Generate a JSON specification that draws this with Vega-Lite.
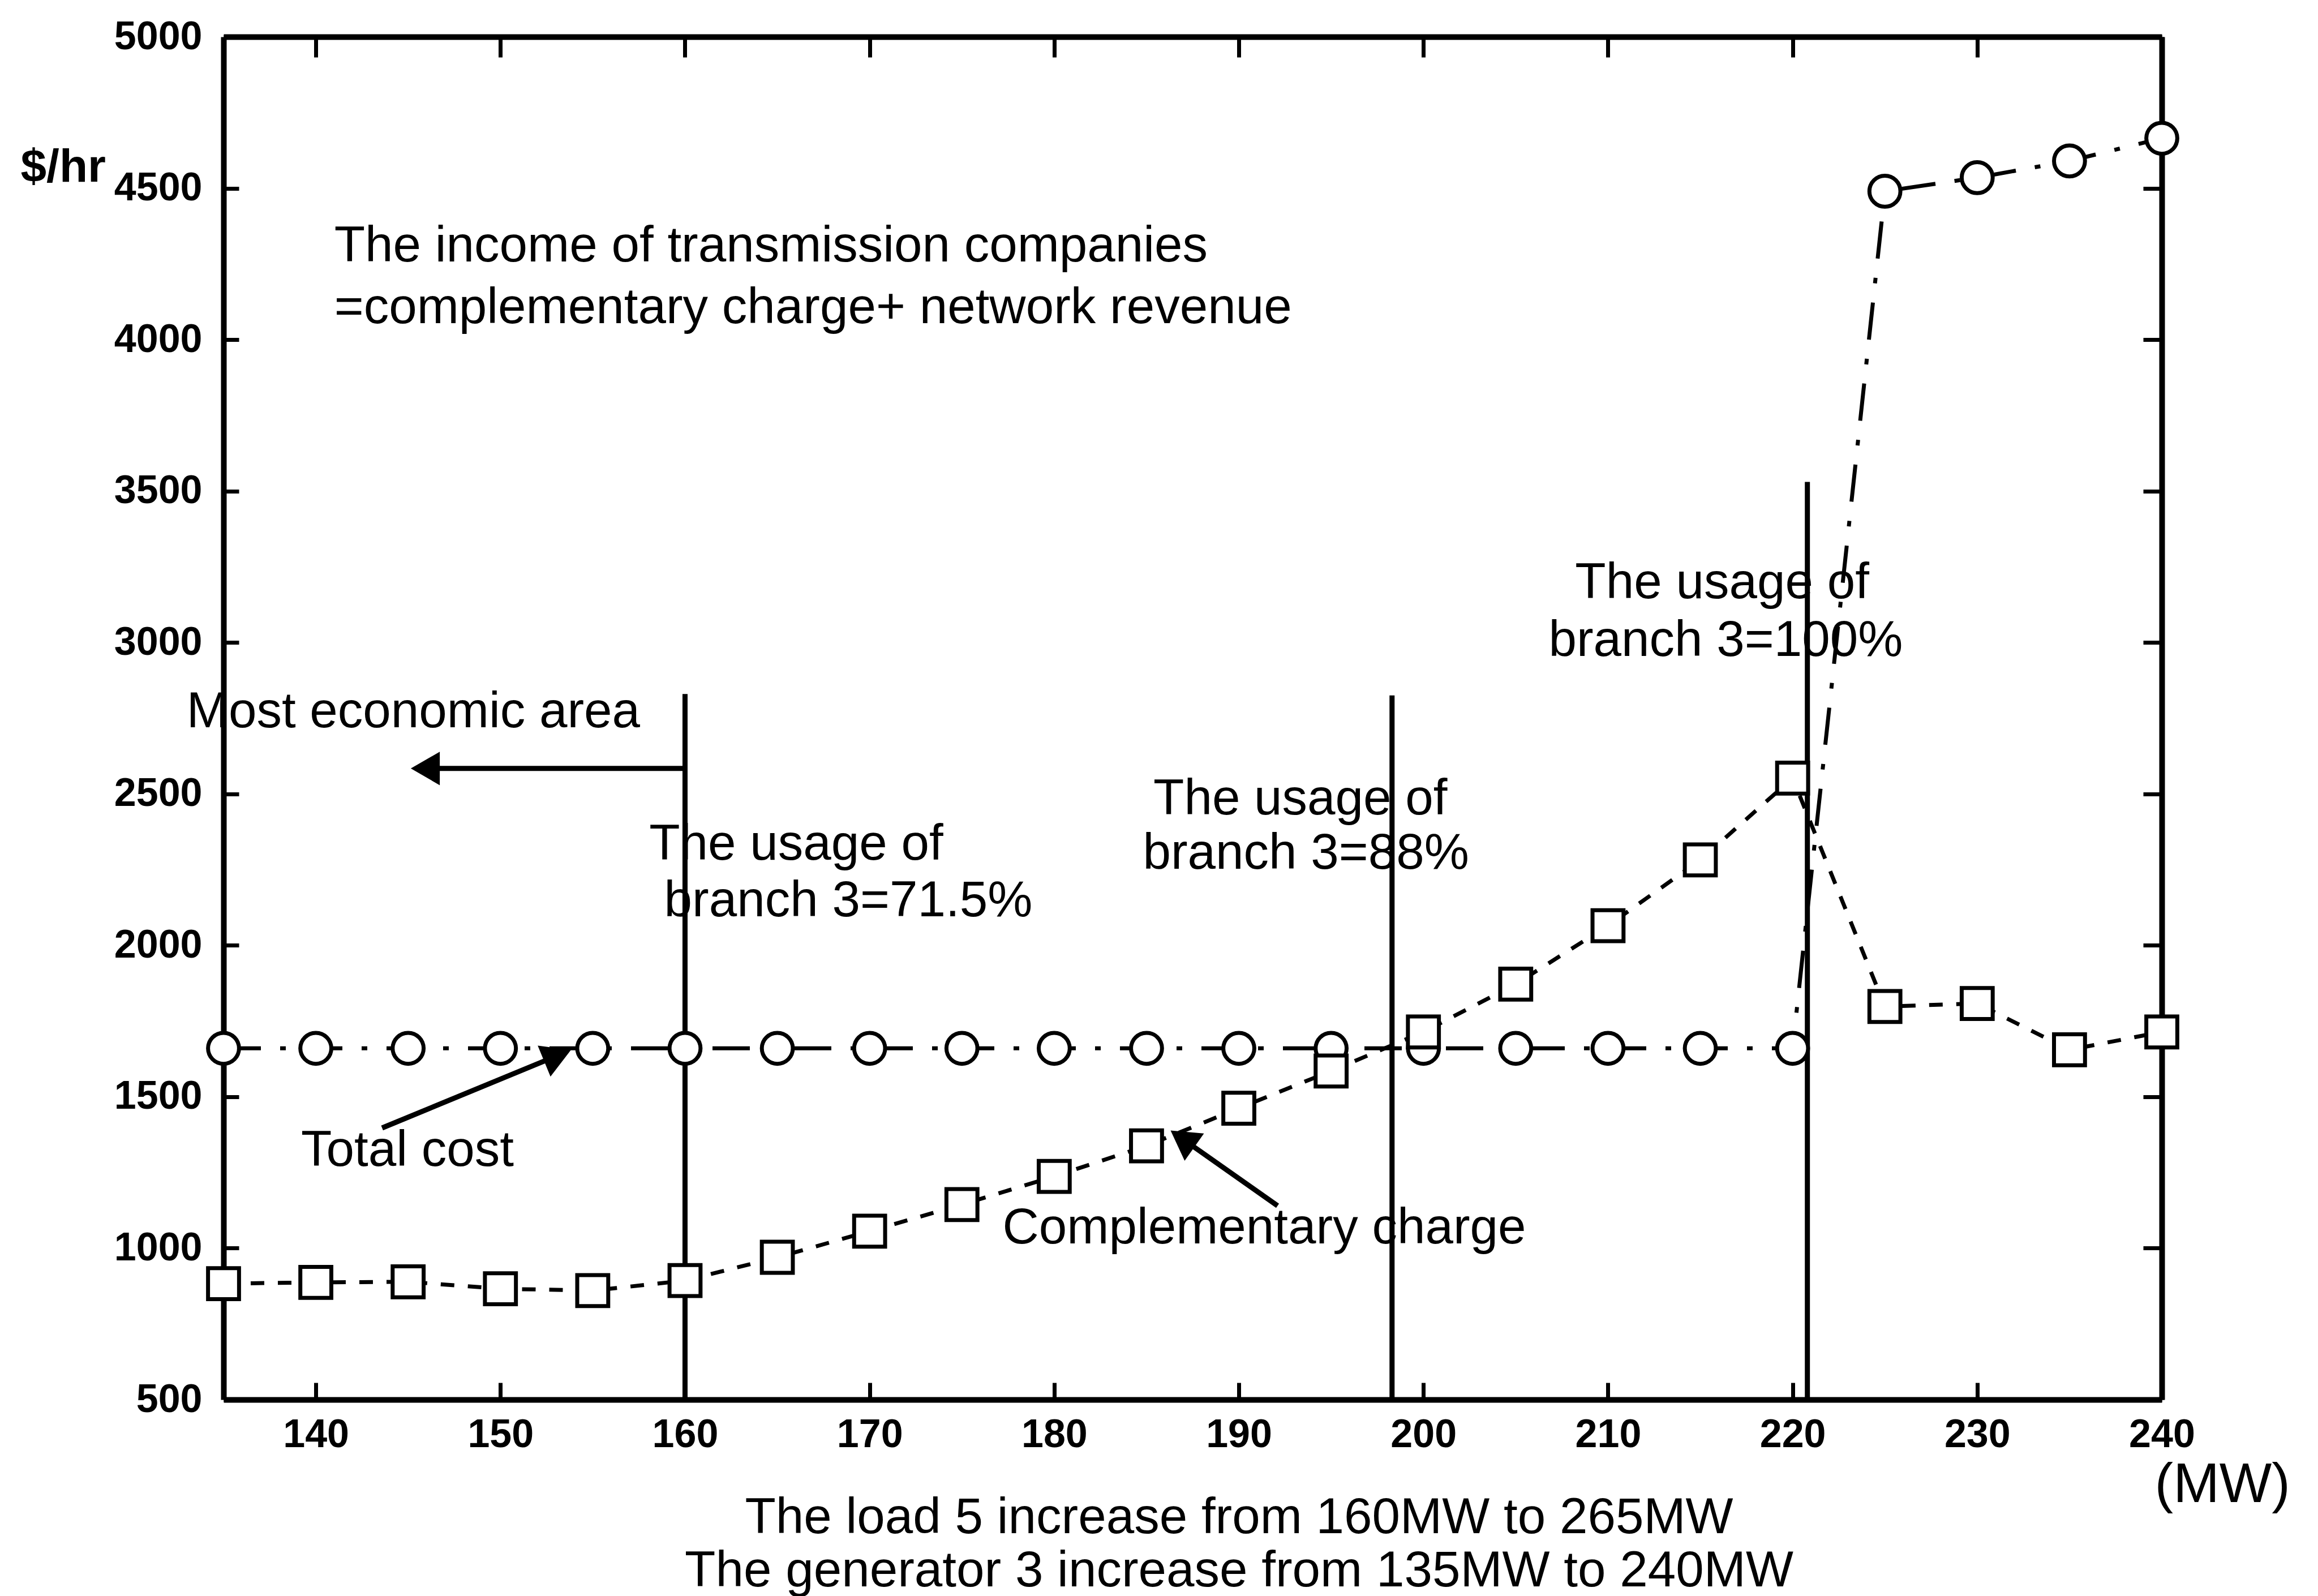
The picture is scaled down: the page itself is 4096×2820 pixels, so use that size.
{
  "$schema": "https://vega.github.io/schema/vega-lite/v6.json",
  "width": 3425,
  "height": 2408,
  "autosize": {"type": "none"},
  "padding": {"left": 395, "top": 65, "right": 276, "bottom": 347},
  "background": "white",
  "config": {
    "view": {"stroke": null},
    "font": "Liberation Sans",
    "axis": {
      "grid": false,
      "domainColor": "black",
      "tickColor": "black",
      "labelColor": "black",
      "titleColor": "black",
      "labelFont": "Liberation Sans",
      "titleFont": "Liberation Sans",
      "labelFlush": false,
      "labelOverlap": false
    }
  },
  "datasets": {
    "series": [
      {"mw": 135, "total": 1660, "comp": 883},
      {"mw": 140, "total": 1660, "comp": 887},
      {"mw": 145, "total": 1660, "comp": 889},
      {"mw": 150, "total": 1660, "comp": 866},
      {"mw": 155, "total": 1660, "comp": 860},
      {"mw": 160, "total": 1660, "comp": 893},
      {"mw": 165, "total": 1660, "comp": 970},
      {"mw": 170, "total": 1660, "comp": 1056},
      {"mw": 175, "total": 1660, "comp": 1144},
      {"mw": 180, "total": 1660, "comp": 1237},
      {"mw": 185, "total": 1660, "comp": 1338},
      {"mw": 190, "total": 1660, "comp": 1462},
      {"mw": 195, "total": 1660, "comp": 1585},
      {"mw": 200, "total": 1660, "comp": 1714},
      {"mw": 205, "total": 1660, "comp": 1872},
      {"mw": 210, "total": 1660, "comp": 2065},
      {"mw": 215, "total": 1660, "comp": 2282},
      {"mw": 220, "total": 1660, "comp": 2552},
      {"mw": 225, "total": 4490, "comp": 1798},
      {"mw": 230, "total": 4535, "comp": 1808},
      {"mw": 235, "total": 4590, "comp": 1655},
      {"mw": 240, "total": 4665, "comp": 1714}
    ],
    "usage": [
      {"mw": 160, "base": 500, "top": 2830},
      {"mw": 198.3, "base": 500, "top": 2825},
      {"mw": 220.8, "base": 500, "top": 3530}
    ],
    "arrows": [
      {"name": "total", "mw": 143.59, "usd": 1397, "mw2": 152.85, "usd2": 1630},
      {"name": "comp", "mw": 192.1, "usd": 1140, "mw2": 187.16, "usd2": 1352},
      {"name": "econ", "mw": 160, "usd": 2584, "mw2": 145.93, "usd2": 2584}
    ],
    "notes": [
      {"mw": 141.0, "usd": 4259, "text": "The income of transmission companies"},
      {"mw": 141.0, "usd": 4054, "text": "=complementary charge+ network revenue"},
      {"mw": 133.0, "usd": 2721, "text": "Most economic area"},
      {"mw": 158.06, "usd": 2282, "text": "The usage of"},
      {"mw": 158.87, "usd": 2095, "text": "branch 3=71.5%"},
      {"mw": 185.37, "usd": 2432, "text": "The usage of"},
      {"mw": 184.8, "usd": 2253, "text": "branch 3=88%"},
      {"mw": 208.22, "usd": 3147, "text": "The usage of"},
      {"mw": 206.78, "usd": 2955, "text": "branch 3=100%"},
      {"mw": 139.2, "usd": 1272, "text": "Total cost"},
      {"mw": 177.2, "usd": 1016, "text": "Complementary charge"}
    ],
    "unit": [
      {"mw": 239.62, "usd": 162, "text": "(MW)"}
    ]
  },
  "resolve": {"axis": {"x": "independent", "y": "independent"}},
  "layer": [
    {
      "data": {"name": "usage"},
      "mark": {"type": "rule", "color": "black", "strokeWidth": 9},
      "encoding": {
        "x": {"field": "mw", "type": "quantitative", "scale": {"domain": [135, 240], "nice": false, "zero": false}, "axis": null},
        "y": {"field": "base", "type": "quantitative", "scale": {"domain": [500, 5000], "nice": false, "zero": false}, "axis": null},
        "y2": {"field": "top"}
      }
    },
    {
      "data": {"name": "series"},
      "mark": {"type": "line", "color": "black", "strokeWidth": 7, "strokeDash": [66, 34, 10, 34]},
      "encoding": {
        "x": {
          "field": "mw", "type": "quantitative",
          "scale": {"domain": [135, 240], "nice": false, "zero": false},
          "axis": {
            "orient": "bottom",
            "values": [140, 150, 160, 170, 180, 190, 200, 210, 220, 230, 240],
            "format": "d",
            "domainWidth": 10,
            "tickSize": -30,
            "tickWidth": 7,
            "labelFontSize": 70,
            "labelFontWeight": "bold",
            "labelPadding": 58,
            "title": ["The load 5 increase from 160MW to 265MW", "The generator 3 increase from 135MW to 240MW"],
            "titleFontSize": 89,
            "titleFontWeight": "normal",
            "titleAlign": "center",
            "titleBaseline": "alphabetic",
            "titleLineHeight": 94,
            "titleX": 1794,
            "titleY": 235
          }
        },
        "y": {
          "field": "total", "type": "quantitative",
          "scale": {"domain": [500, 5000], "nice": false, "zero": false},
          "axis": {
            "orient": "left",
            "values": [500, 1000, 1500, 2000, 2500, 3000, 3500, 4000, 4500, 5000],
            "format": "d",
            "domainWidth": 10,
            "tickSize": -27,
            "tickWidth": 7,
            "labelFontSize": 70,
            "labelFontWeight": "bold",
            "labelPadding": 65,
            "title": "$/hr",
            "titleAngle": 0,
            "titleAlign": "left",
            "titleBaseline": "alphabetic",
            "titleFontSize": 82,
            "titleFontWeight": "bold",
            "titleX": -359,
            "titleY": 255
          }
        }
      }
    },
    {
      "data": {"name": "series"},
      "mark": {"type": "point", "shape": "circle", "filled": true, "fill": "white", "stroke": "black", "strokeWidth": 7, "size": 3000, "opacity": 1},
      "encoding": {
        "x": {"field": "mw", "type": "quantitative", "scale": {"domain": [135, 240], "nice": false, "zero": false}, "axis": null},
        "y": {"field": "total", "type": "quantitative", "scale": {"domain": [500, 5000], "nice": false, "zero": false}, "axis": null}
      }
    },
    {
      "data": {"name": "series"},
      "mark": {"type": "line", "color": "black", "strokeWidth": 7, "strokeDash": [24, 24]},
      "encoding": {
        "x": {
          "field": "mw", "type": "quantitative",
          "scale": {"domain": [135, 240], "nice": false, "zero": false},
          "axis": {
            "orient": "top",
            "values": [140, 150, 160, 170, 180, 190, 200, 210, 220, 230, 240],
            "labels": false,
            "domainWidth": 10,
            "tickSize": -36,
            "tickWidth": 7,
            "title": null
          }
        },
        "y": {
          "field": "comp", "type": "quantitative",
          "scale": {"domain": [500, 5000], "nice": false, "zero": false},
          "axis": {
            "orient": "right",
            "values": [500, 1000, 1500, 2000, 2500, 3000, 3500, 4000, 4500, 5000],
            "labels": false,
            "domainWidth": 10,
            "tickSize": -33,
            "tickWidth": 7,
            "title": null
          }
        }
      }
    },
    {
      "data": {"name": "series"},
      "mark": {"type": "point", "shape": "square", "filled": true, "fill": "white", "stroke": "black", "strokeWidth": 7, "size": 3000, "opacity": 1},
      "encoding": {
        "x": {"field": "mw", "type": "quantitative", "scale": {"domain": [135, 240], "nice": false, "zero": false}, "axis": null},
        "y": {"field": "comp", "type": "quantitative", "scale": {"domain": [500, 5000], "nice": false, "zero": false}, "axis": null}
      }
    },
    {
      "data": {"name": "arrows"},
      "mark": {"type": "rule", "color": "black", "strokeWidth": 9},
      "encoding": {
        "x": {"field": "mw", "type": "quantitative", "scale": {"domain": [135, 240], "nice": false, "zero": false}, "axis": null},
        "y": {"field": "usd", "type": "quantitative", "scale": {"domain": [500, 5000], "nice": false, "zero": false}, "axis": null},
        "x2": {"field": "mw2"},
        "y2": {"field": "usd2"}
      }
    },
    {
      "data": {"name": "arrows"},
      "transform": [{"filter": "datum.name === 'total'"}],
      "mark": {"type": "point", "shape": "triangle", "filled": true, "color": "black", "opacity": 1, "size": 3500, "angle": 67.6},
      "encoding": {
        "x": {"field": "mw2", "type": "quantitative", "scale": {"domain": [135, 240], "nice": false, "zero": false}, "axis": null},
        "y": {"field": "usd2", "type": "quantitative", "scale": {"domain": [500, 5000], "nice": false, "zero": false}, "axis": null}
      }
    },
    {
      "data": {"name": "arrows"},
      "transform": [{"filter": "datum.name === 'comp'"}],
      "mark": {"type": "point", "shape": "triangle", "filled": true, "color": "black", "opacity": 1, "size": 3500, "angle": 305.2},
      "encoding": {
        "x": {"field": "mw2", "type": "quantitative", "scale": {"domain": [135, 240], "nice": false, "zero": false}, "axis": null},
        "y": {"field": "usd2", "type": "quantitative", "scale": {"domain": [500, 5000], "nice": false, "zero": false}, "axis": null}
      }
    },
    {
      "data": {"name": "arrows"},
      "transform": [{"filter": "datum.name === 'econ'"}],
      "mark": {"type": "point", "shape": "triangle-left", "filled": true, "color": "black", "opacity": 1, "size": 3500},
      "encoding": {
        "x": {"field": "mw2", "type": "quantitative", "scale": {"domain": [135, 240], "nice": false, "zero": false}, "axis": null},
        "y": {"field": "usd2", "type": "quantitative", "scale": {"domain": [500, 5000], "nice": false, "zero": false}, "axis": null}
      }
    },
    {
      "data": {"name": "notes"},
      "mark": {"type": "text", "align": "left", "baseline": "alphabetic", "fontSize": 89, "font": "Liberation Sans", "color": "black"},
      "encoding": {
        "x": {"field": "mw", "type": "quantitative", "scale": {"domain": [135, 240], "nice": false, "zero": false}, "axis": null},
        "y": {"field": "usd", "type": "quantitative", "scale": {"domain": [500, 5000], "nice": false, "zero": false}, "axis": null},
        "text": {"field": "text"}
      }
    },
    {
      "data": {"name": "unit"},
      "mark": {"type": "text", "align": "left", "baseline": "alphabetic", "fontSize": 98, "font": "Liberation Sans", "color": "black"},
      "encoding": {
        "x": {"field": "mw", "type": "quantitative", "scale": {"domain": [135, 240], "nice": false, "zero": false}, "axis": null},
        "y": {"field": "usd", "type": "quantitative", "scale": {"domain": [500, 5000], "nice": false, "zero": false}, "axis": null},
        "text": {"field": "text"}
      }
    }
  ]
}
